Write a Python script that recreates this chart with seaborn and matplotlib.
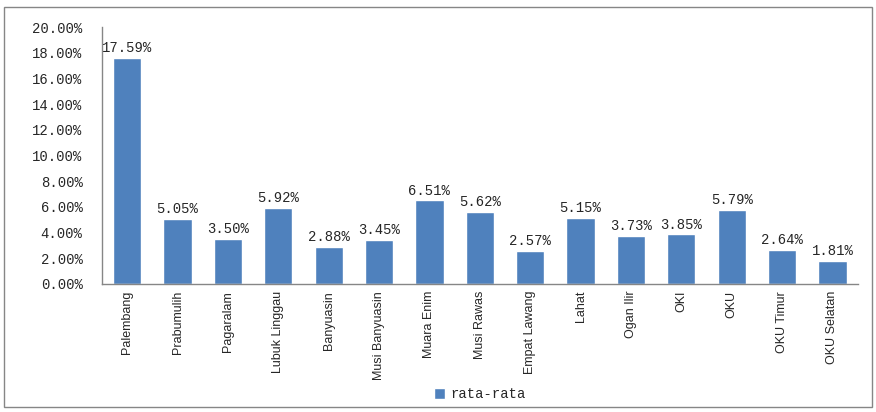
import matplotlib
matplotlib.use("Agg")
import matplotlib.pyplot as plt
import seaborn as sns
import pandas as pd
from matplotlib.patches import Rectangle
from matplotlib.ticker import FuncFormatter

categories = ["Palembang", "Prabumulih", "Pagaralam", "Lubuk Linggau", "Banyuasin",
              "Musi Banyuasin", "Muara Enim", "Musi Rawas", "Empat Lawang", "Lahat",
              "Ogan Ilir", "OKI", "OKU", "OKU Timur", "OKU Selatan"]
values = [17.59, 5.05, 3.50, 5.92, 2.88, 3.45, 6.51, 5.62, 2.57, 5.15, 3.73, 3.85, 5.79, 2.64, 1.81]
series_name = "rata-rata"

sns.set_theme(style="white")
plt.rcParams['font.family'] = ['Liberation Mono', 'DejaVu Sans Mono']

df = pd.DataFrame({"kab": categories, "val": values, "s": series_name})

fig = plt.figure(figsize=(8.76, 4.12), dpi=100)
ax = fig.add_axes([0.1164, 0.311, 0.8626, 0.623])
sns.barplot(data=df, x="kab", y="val", hue="s", palette=["#4F81BD"], width=0.56,
            ax=ax, legend=True, saturation=1)

ax.set_ylim(0, 20)
ax.set_yticks(range(0, 21, 2))
ax.yaxis.set_major_formatter(FuncFormatter(lambda v, p: f"{v:.2f}%"))
ax.tick_params(axis='y', labelsize=10, length=0, pad=14)
ax.tick_params(axis='x', labelsize=9, length=0, pad=5, labelrotation=90)
for lbl in ax.get_xticklabels():
    lbl.set_fontfamily(['Liberation Sans Narrow', 'Liberation Sans', 'DejaVu Sans'])
ax.set_xlabel("")
ax.set_ylabel("")
for side in ["top", "right"]:
    ax.spines[side].set_visible(False)
for side in ["left", "bottom"]:
    ax.spines[side].set_color("#868686")
    ax.spines[side].set_linewidth(1)

for c in ax.containers:
    ax.bar_label(c, labels=[f"{v:.2f}%" for v in values], fontsize=10, padding=2)

leg = ax.legend(loc="center", bbox_to_anchor=(0.5, -0.43), frameon=False, fontsize=10,
                handlelength=0.8, handleheight=0.8, handletextpad=0.4)

fig.patches.append(Rectangle((0.005, 0.012), 0.99, 0.972, transform=fig.transFigure,
                             fill=False, edgecolor="#868686", linewidth=1))

fig.savefig("out.png", dpi=100)
